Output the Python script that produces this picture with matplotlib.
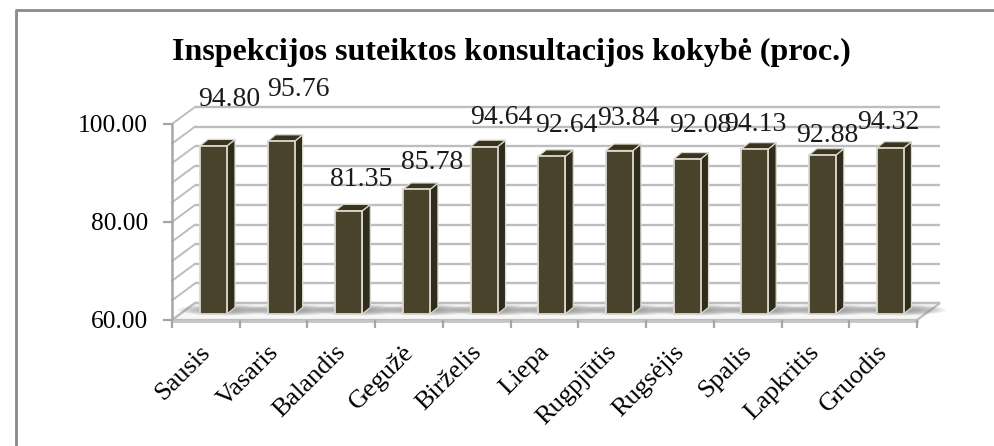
import numpy as np
import matplotlib
matplotlib.use("Agg")
import matplotlib.pyplot as plt
from matplotlib.patches import Polygon, Rectangle, Ellipse

months = ["Sausis", "Vasaris", "Balandis", "Gegužė", "Birželis", "Liepa",
          "Rugpjūtis", "Rugsėjis", "Spalis", "Lapkritis", "Gruodis"]
values = [94.80, 95.76, 81.35, 85.78, 94.64, 92.64, 93.84, 92.08, 94.13, 92.88, 94.32]
title = "Inspekcijos suteiktos konsultacijos kokybė (proc.)"
y_ticks = [60, 80, 100]
grid_levels = list(range(60, 101, 4))

# label offsets (pixels) from each bar's front-top centre
label_dx = [16, 17, 12, 16, 17, 15, 9, 13, 1, 5, -2]
label_dy = [46, 52, 31, 27, 29, 31, 32, 34, 25, 20, 26]

W, H = 994, 446
plt.rcParams['font.family'] = ['Liberation Serif', 'DejaVu Serif']
fig = plt.figure(figsize=(W / 100, H / 100), dpi=100, facecolor='white')
ax = fig.add_axes([0, 0, 1, 1])

# scale: category index / value -> image pixels
X0, XU = 213.5, 67.65
Y0, YU = 314.0, 4.83
ax.set_xlim((0 - X0) / XU, (W - X0) / XU)
ax.set_ylim(60 + (Y0 - H) / YU, 60 + Y0 / YU)
ax.axis('off')

xd = lambda px: (px - X0) / XU
yd = lambda py: 60 + (Y0 - py) / YU

GRID = '#BDBDBD'
AXC = '#A6A6A6'
BL, BR, BACKY, FRONTY = 172, 917, 303, 320
DX, DY = 23, 17
WALL = 4.9

# floor
ax.add_patch(Polygon([(xd(BL), yd(FRONTY)), (xd(BL + DX), yd(BACKY)),
                      (xd(BR + DX), yd(BACKY)), (xd(BR), yd(FRONTY))],
                     closed=True, fc='#F7F7F7', ec=GRID, lw=1.6, zorder=1))
# back-wall and side-wall grid lines
for lv in grid_levels:
    py = BACKY - (lv - 60) * WALL
    ax.plot([xd(BL + DX), xd(BR + DX)], [yd(py)] * 2, color=GRID, lw=1.7, zorder=1.2,
            solid_capstyle='butt')
    ax.plot([xd(BL), xd(BL + DX)], [yd(py + DY), yd(py)], color=GRID, lw=1.4, zorder=1.2)

# value axis
ax.plot([xd(BL)] * 2, [yd(FRONTY + 1), yd(BACKY + DY - 40 * WALL)], color=AXC, lw=1.8, zorder=3,
        solid_capstyle='butt')
for t in y_ticks:
    py = FRONTY - (t - 60) * WALL
    ax.plot([xd(BL - 8), xd(BL)], [yd(py)] * 2, color=AXC, lw=1.6, zorder=3)
    ax.text(xd(BL - 24), yd(py + 2), f"{t:.2f}", ha='right', va='center', fontsize=18.4,
            color='black', zorder=6)

# category axis
ax.plot([xd(BL), xd(BR)], [yd(FRONTY + 1)] * 2, color='#C4C4C4', lw=2, zorder=3)
for k in range(len(months) + 1):
    px = BL + k * (BR - BL) / len(months)
    ax.plot([xd(px)] * 2, [yd(FRONTY + 1), yd(FRONTY + 7)], color=AXC, lw=1.6, zorder=3)

# floor shadows
for i in range(len(months)):
    for f in np.linspace(1, 0.15, 14):
        ax.add_patch(Ellipse((i + 10 / XU, yd(310)), f * 92 / XU, f * 11 / YU,
                             fc='#808080', ec='none', alpha=0.09, zorder=1.6))

# bars
BW = 27
dxb, dyb = 8 / XU, 6.5 / YU
hw = BW / XU / 2
ax.bar(range(len(months)), [v - 60 for v in values], bottom=60, width=BW / XU,
       color='#4A432B', edgecolor='#DAD8CE', linewidth=1.3, zorder=4)
for i, v in enumerate(values):
    r = i + hw
    ax.add_patch(Polygon([(r, 60), (r + dxb, 60 + dyb), (r + dxb, v + dyb), (r, v)],
                         closed=True, fc='#2F2C1B', ec='#DAD8CE', lw=0.9, zorder=3.8))
    ax.add_patch(Polygon([(i - hw, v), (i - hw + dxb, v + dyb), (r + dxb, v + dyb), (r, v)],
                         closed=True, fc='#3A341F', ec='#DAD8CE', lw=0.9, zorder=3.8))
    ax.annotate(f"{v:.2f}", (i, v), xytext=(label_dx[i], label_dy[i]),
                textcoords='offset pixels', ha='center', va='center',
                fontsize=20, color='#1a1a1a', zorder=7)

# category labels
for i, m in enumerate(months):
    ax.text(i - 14 / XU, yd(341), m, rotation=45, rotation_mode='anchor', ha='right', va='top',
            fontsize=19, color='black', zorder=6)

# title
ax.text(xd(511), yd(52), title, ha='center', va='center', fontsize=23, fontweight='bold',
        color='black', zorder=6)

# outer frame (open to the right and the bottom)
ax.plot([xd(15.5), xd(15.5)], [yd(H), yd(9.5)], color='#8A8A8A', lw=2, zorder=8, solid_capstyle='butt')
ax.plot([xd(15), xd(W)], [yd(9.5), yd(9.5)], color='#8A8A8A', lw=2, zorder=8, solid_capstyle='butt')

fig.savefig('out.png', dpi=100, facecolor='white')
